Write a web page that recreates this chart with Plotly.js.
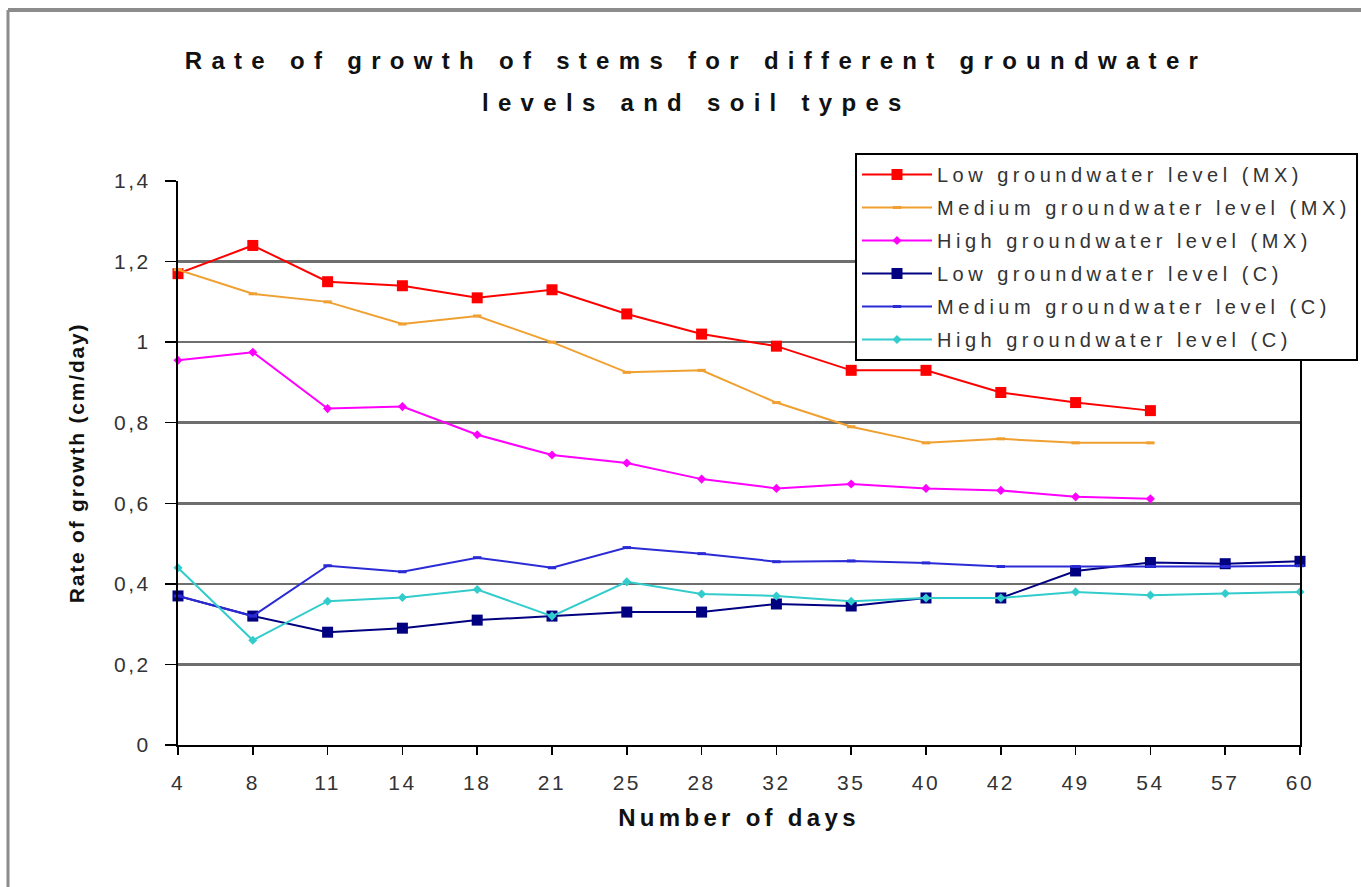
<!DOCTYPE html>
<html>
<head>
<meta charset="utf-8">
<script src="https://cdn.plot.ly/plotly-3.0.1.min.js"></script>
<style>
  html, body { margin: 0; padding: 0; background: #ffffff; }
  #chart { width: 1361px; height: 887px; }
  .gtitle { letter-spacing: 9.3px; }
  .annotation-text { letter-spacing: 9.3px; }
  .legendtext { letter-spacing: 4.5px; }
  .xtick text, .ytick text { letter-spacing: 2.5px; }
  .xtitle { letter-spacing: 4.3px; }
  .ytitle { letter-spacing: 1.8px; }
</style>
</head>
<body>
<div id="chart"></div>
<script>
// ---- data ----
const days = ['4','8','11','14','18','21','25','28','32','35','40','42','49','54','57','60'];

const lowMX  = [1.17, 1.24, 1.15, 1.14, 1.11, 1.13, 1.07, 1.02, 0.99, 0.93, 0.93, 0.875, 0.85, 0.83, null, null];
const medMX  = [1.18, 1.12, 1.10, 1.045, 1.065, 1.00, 0.925, 0.93, 0.85, 0.79, 0.75, 0.76, 0.75, 0.75, null, null];
const highMX = [0.955, 0.975, 0.835, 0.84, 0.77, 0.72, 0.70, 0.66, 0.637, 0.648, 0.637, 0.632, 0.616, 0.611, null, null];
const lowC   = [0.37, 0.32, 0.28, 0.29, 0.31, 0.32, 0.33, 0.33, 0.35, 0.345, 0.365, 0.365, 0.432, 0.453, 0.45, 0.456];
const medC   = [0.37, 0.32, 0.445, 0.43, 0.465, 0.44, 0.49, 0.475, 0.455, 0.457, 0.452, 0.443, 0.443, 0.443, 0.443, 0.445];
const highC  = [0.44, 0.26, 0.357, 0.366, 0.386, 0.32, 0.405, 0.375, 0.37, 0.357, 0.365, 0.365, 0.38, 0.372, 0.376, 0.38];

const seriesNames = [
  'Low groundwater level (MX)',
  'Medium groundwater level (MX)',
  'High groundwater level (MX)',
  'Low groundwater level (C)',
  'Medium groundwater level (C)',
  'High groundwater level (C)'
];

const titleLine1 = 'Rate of growth of stems for different groundwater';
const titleLine2 = 'levels and soil types';
const xTitle = 'Number of days';
const yTitle = 'Rate of growth (cm/day)';

// ---- styling ----
const FONT = 'Liberation Sans, Arial, sans-serif';

function mk(name, y, color, symbol, size, group) {
  const isLine = symbol === 'line-ew';
  return {
    type: 'scatter',
    mode: 'lines+markers',
    x: days,
    y: y,
    name: name,
    legendgroup: group,
    cliponaxis: false,
    connectgaps: false,
    line: { color: color, width: 2 },
    marker: {
      symbol: symbol,
      size: size,
      color: color,
      line: { color: color, width: isLine ? 3 : 0 }
    }
  };
}

const traces = [
  mk(seriesNames[0], lowMX,  '#ff0000', 'square',  11, 'g1'),
  mk(seriesNames[1], medMX,  '#f0a030', 'line-ew', 6,  'g2'),
  mk(seriesNames[2], highMX, '#ff00ff', 'diamond', 7,  'g3'),
  mk(seriesNames[3], lowC,   '#000080', 'square',  11, 'g4'),
  mk(seriesNames[4], medC,   '#2b2bd6', 'line-ew', 6,  'g5'),
  mk(seriesNames[5], highC,  '#33cccc', 'diamond', 7,  'g6')
];

const layout = {
  width: 1361,
  height: 887,
  paper_bgcolor: '#ffffff',
  plot_bgcolor: '#ffffff',
  separators: ', ',
  font: { family: FONT, color: '#222222', size: 20 },
  margin: { l: 178, r: 61, t: 181, b: 142, pad: 0, autoexpand: false },
  showlegend: true,
  title: {
    text: titleLine1,
    font: { family: FONT, size: 24, weight: 'bold', color: '#111111' },
    xref: 'container', yref: 'container',
    x: 696 / 1361, y: 1 - 61 / 887,
    xanchor: 'center', yanchor: 'middle'
  },
  annotations: [{
    text: titleLine2,
    xref: 'paper', yref: 'paper',
    x: (696 - 178) / 1122, y: (745 - 103) / 564,
    xanchor: 'center', yanchor: 'middle',
    showarrow: false,
    font: { family: FONT, size: 24, weight: 'bold', color: '#111111' }
  }],
  xaxis: {
    type: 'category',
    range: [0, days.length - 1],
    showgrid: false,
    showline: true,
    linecolor: '#000000',
    linewidth: 2,
    ticks: 'outside',
    ticklen: 8,
    tickwidth: 1.5,
    tickcolor: '#000000',
    ticklabelstandoff: 10,
    tickfont: { family: FONT, size: 21, color: '#333333' },
    zeroline: false,
    automargin: false,
    title: {
      text: xTitle,
      font: { family: FONT, size: 24, weight: 'bold', color: '#111111' },
      standoff: 16
    }
  },
  yaxis: {
    range: [0, 1.4],
    dtick: 0.2,
    tick0: 0,
    showgrid: true,
    gridcolor: '#6e6e6e',
    gridwidth: 2.5,
    showline: true,
    mirror: true,
    linecolor: '#000000',
    linewidth: 2,
    ticks: 'outside',
    ticklen: 11,
    tickwidth: 1.5,
    tickcolor: '#000000',
    ticklabelstandoff: 10,
    tickfont: { family: FONT, size: 21, color: '#333333' },
    zeroline: false,
    automargin: false,
    title: {
      text: yTitle,
      font: { family: FONT, size: 21, weight: 'bold', color: '#111111' },
      standoff: 24
    }
  },
  legend: {
    x: (855 - 178) / 1122,
    y: (745 - 153) / 564,
    xanchor: 'left',
    yanchor: 'top',
    xref: 'paper', yref: 'paper',
    bgcolor: '#ffffff',
    bordercolor: '#000000',
    borderwidth: 2,
    itemwidth: 70,
    tracegroupgap: 4,
    traceorder: 'grouped',
    font: { family: FONT, size: 20, color: '#333333' }
  },
  shapes: [
    { type: 'line', xref: 'paper', yref: 'paper', layer: 'above',
      x0: (8 - 178) / 1122, x1: (1370 - 178) / 1122,
      y0: (745 - 10) / 564, y1: (745 - 10) / 564,
      line: { color: '#8c8c8c', width: 4 } },
    { type: 'line', xref: 'paper', yref: 'paper', layer: 'above',
      x0: (8 - 178) / 1122, x1: (8 - 178) / 1122,
      y0: (745 - 10) / 564, y1: (745 - 895) / 564,
      line: { color: '#8c8c8c', width: 3 } }
  ]
};

Plotly.newPlot('chart', traces, layout, { displayModeBar: false, staticPlot: true });
</script>
</body>
</html>
